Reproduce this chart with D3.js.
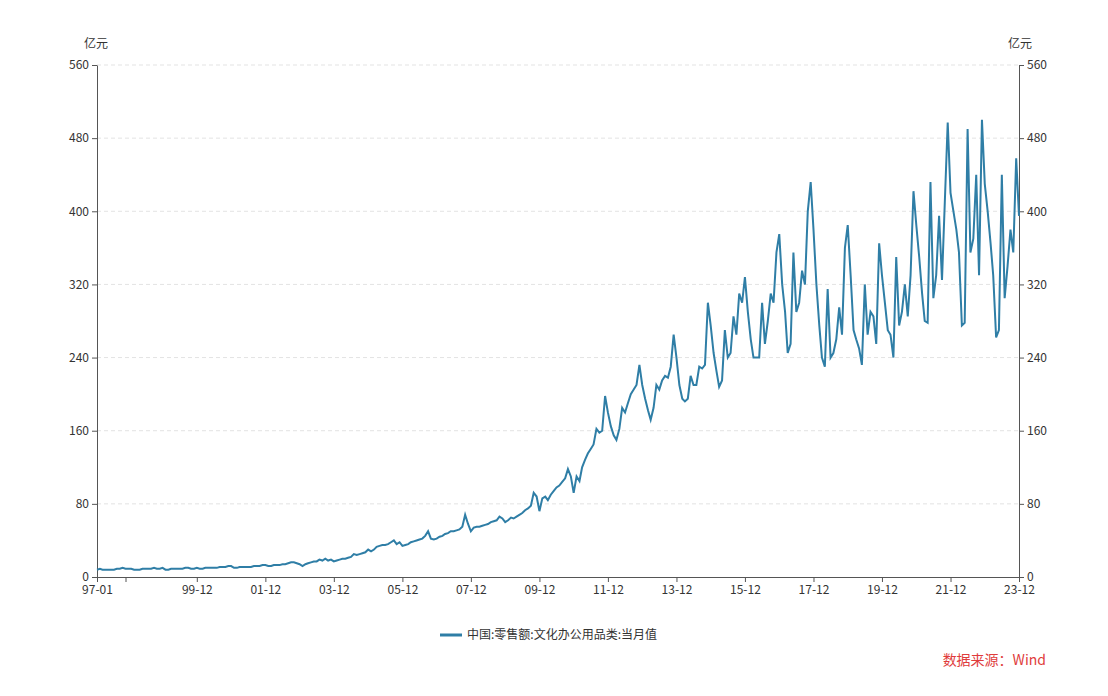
<!DOCTYPE html>
<html><head><meta charset="utf-8">
<script src="https://cdn.jsdelivr.net/npm/d3@7"></script>
<style>body{margin:0;background:#fff;font-family:"Noto Sans CJK SC","Open Sans",sans-serif;}</style>
</head><body><svg id="c" width="1108" height="696"></svg>
<script>
const startYear = 1997;
const yearly = [
[8,9,8,8,8,8,8,9,9,10,9,9],
[9,8,8,8,9,9,9,9,10,9,9,10],
[8,8,9,9,9,9,9,10,10,9,9,10],
[9,9,10,10,10,10,10,11,11,11,12,12],
[10,10,11,11,11,11,11,12,12,12,13,13],
[12,12,13,13,13,14,14,15,16,16,15,14],
[12,14,15,16,17,17,19,18,20,18,19,17],
[18,19,20,20,21,22,25,24,25,26,27,30],
[28,30,33,34,35,35,36,38,40,36,38,34],
[35,36,38,39,40,41,42,45,50,42,41,42],
[44,45,47,48,50,50,51,52,55,68,58,50],
[54,55,55,56,57,58,60,61,62,66,64,60],
[62,65,64,66,68,70,73,75,78,92,88,72],
[86,88,84,90,94,98,100,104,108,118,110,92],
[110,105,120,128,135,140,145,162,158,160,198,180],
[165,155,150,162,185,180,190,200,205,210,232,210],
[195,182,172,185,210,205,215,220,218,230,265,240],
[210,195,192,195,220,210,210,230,228,232,300,275],
[245,225,208,215,270,240,245,285,265,310,300,328],
[290,260,240,240,240,300,255,280,310,300,355,375],
[320,290,245,255,355,290,300,335,320,400,432,380],
[320,275,240,230,315,240,245,260,295,265,360,385],
[330,270,260,250,232,320,265,290,285,255,365,330],
[300,270,265,240,350,275,290,320,285,330,422,385],
[350,310,280,278,432,305,330,395,325,410,497,420],
[400,380,355,275,278,490,355,370,440,330,500,430],
[400,365,330,262,270,440,305,340,380,355,458,395]
];
const yTicks = [0,80,160,240,320,400,480,560];
const xTickLabels = ["97-01","99-12","01-12","03-12","05-12","07-12","09-12","11-12","13-12","15-12","17-12","19-12","21-12","23-12"];
const seriesName = "中国:零售额:文化办公用品类:当月值";
const unit = "亿元";
const source = "数据来源：Wind";

const data = [];
yearly.forEach((row,i)=>row.forEach((v,m)=>data.push({d:new Date(startYear+i,m,1),v})));
const svg = d3.select("#c");
const L=97,R=1019,T=65,B=577;
const x = d3.scaleTime().domain([data[0].d,data[data.length-1].d]).range([L,R]);
const y = d3.scaleLinear().domain([0,560]).range([B,T]);
const parse = s=>{const [a,b]=s.split("-").map(Number);return new Date((a>50?1900:2000)+a,b-1,1);};
const tickDates = xTickLabels.map(parse);

svg.append("g").selectAll("line").data(yTicks.slice(1)).join("line")
 .attr("x1",L).attr("x2",R).attr("y1",d=>y(d)).attr("y2",d=>y(d))
 .attr("stroke","#e3e3e3").attr("stroke-dasharray","4,3");

const font = "12px 'Noto Sans CJK SC','Open Sans',sans-serif";
const yl = svg.append("g").attr("transform",`translate(${L},0)`).call(d3.axisLeft(y).tickValues(yTicks).tickSize(5).tickSizeOuter(0));
const yr = svg.append("g").attr("transform",`translate(${R},0)`).call(d3.axisRight(y).tickValues(yTicks).tickSize(5).tickSizeOuter(0));
const xa = svg.append("g").attr("transform",`translate(0,${B})`).call(d3.axisBottom(x).tickValues([...tickDates,new Date(1997,10,1)]).tickFormat((d,i)=>i<xTickLabels.length?xTickLabels[i]:"").tickSize(5).tickSizeOuter(0));
[yl,yr,xa].forEach(g=>{g.selectAll("path,line").attr("stroke","#555");g.selectAll("text").attr("fill","#333").style("font",font);});

svg.append("path").datum(data).attr("fill","none").attr("stroke","#2f7ea6").attr("stroke-width",2)
 .attr("d",d3.line().x(d=>x(d.d)).y(d=>y(d.v)));

svg.append("text").attr("x",96).attr("y",48).attr("text-anchor","middle").style("font",font).attr("fill","#333").text(unit);
svg.append("text").attr("x",1020).attr("y",48).attr("text-anchor","middle").style("font",font).attr("fill","#333").text(unit);
svg.append("line").attr("x1",440).attr("x2",462).attr("y1",635).attr("y2",635).attr("stroke","#2f7ea6").attr("stroke-width",3);
svg.append("text").attr("x",467).attr("y",639).style("font",font).attr("fill","#333").text(seriesName);
svg.append("text").attr("x",1046).attr("y",665).attr("text-anchor","end").style("font","14px 'Noto Sans CJK SC',sans-serif").attr("fill","#e03c3c").text(source);
</script></body></html>
